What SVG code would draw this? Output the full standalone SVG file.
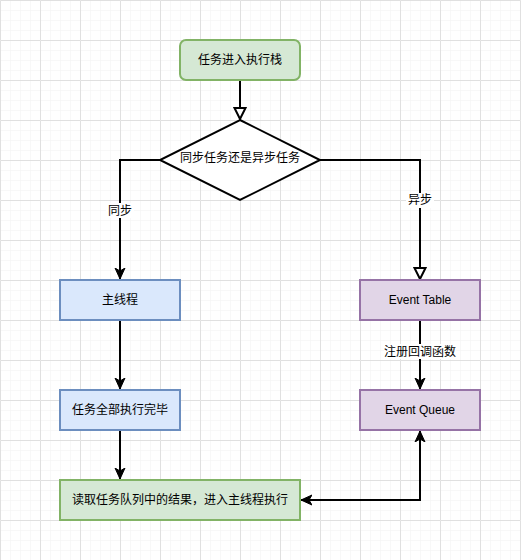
<svg xmlns="http://www.w3.org/2000/svg" width="521" height="560" viewBox="0 0 521 560">
<style>
text{font-family:"Liberation Sans","Noto Sans CJK SC",sans-serif;font-size:12px;fill:#000;text-anchor:middle;dominant-baseline:central}
.edge{fill:none;stroke:#000;stroke-width:2}
.green{fill:#d5e8d4;stroke:#82b366;stroke-width:2}
.blue{fill:#dae8fc;stroke:#6c8ebf;stroke-width:2}
.purple{fill:#e1d5e7;stroke:#9673a6;stroke-width:2}
.lbl{fill:#fff}
</style>
<defs>
<pattern id="minor" width="10" height="10" patternUnits="userSpaceOnUse">
<path d="M10 0H0V10" fill="none" stroke="#f2f2f2" stroke-width="1"/>
</pattern>
<pattern id="major" width="40" height="40" patternUnits="userSpaceOnUse">
<rect width="40" height="40" fill="url(#minor)"/>
<path d="M40 0.5H0.5V40" fill="none" stroke="#e0e0e0" stroke-width="1"/>
</pattern>
<marker id="classic" viewBox="0 0 12 12" refX="11" refY="6" markerWidth="12" markerHeight="12" markerUnits="userSpaceOnUse" orient="auto-start-reverse">
<path d="M0 1L11 6L0 11L3 6Z" fill="#000" stroke="#000" stroke-width="1"/>
</marker>
<marker id="open" viewBox="0 0 14 14" refX="12" refY="7" markerWidth="14" markerHeight="14" markerUnits="userSpaceOnUse" orient="auto">
<path d="M1 1.5L12 7L1 12.5Z" fill="#fff" stroke="#000" stroke-width="2"/>
</marker>
</defs>
<rect width="521" height="560" fill="#fff"/>
<rect width="521" height="560" fill="url(#major)"/>

<g id="connectors">
<path class="edge" d="M240 80V119" marker-end="url(#open)"/>
<path class="edge" d="M160 160H120V279" marker-end="url(#classic)"/>
<path class="edge" d="M320 160H420V279" marker-end="url(#open)"/>
<path class="edge" d="M120 320V389" marker-end="url(#classic)"/>
<path class="edge" d="M120 430V479" marker-end="url(#classic)"/>
<path class="edge" d="M420 320V389" marker-end="url(#classic)"/>
<path class="edge" d="M420 431V500H301" marker-start="url(#classic)" marker-end="url(#classic)"/>
<rect class="lbl" x="106" y="203" width="28" height="15"/>
<text x="120" y="211">同步</text>
<rect class="lbl" x="406" y="193" width="28" height="15"/>
<text x="420" y="200">异步</text>
<rect class="lbl" x="384" y="344" width="72" height="15"/>
<text x="420" y="352">注册回调函数</text>
</g>

<g id="start">
<rect class="green" x="180" y="40" width="120" height="40" rx="6"/>
<text x="240" y="60">任务进入执行栈</text>
</g>
<g id="decision">
<path d="M240 120L320 160L240 200L160 160Z" fill="#fff" stroke="#000" stroke-width="2"/>
<text x="240" y="158">同步任务还是异步任务</text>
</g>
<g id="main-thread">
<rect class="blue" x="60" y="280" width="120" height="40"/>
<text x="120" y="300">主线程</text>
</g>
<g id="all-done">
<rect class="blue" x="60" y="390" width="120" height="40"/>
<text x="120" y="410">任务全部执行完毕</text>
</g>
<g id="event-table">
<rect class="purple" x="360" y="280" width="120" height="40"/>
<text x="420" y="300">Event Table</text>
</g>
<g id="event-queue">
<rect class="purple" x="360" y="390" width="120" height="40"/>
<text x="420" y="410">Event Queue</text>
</g>
<g id="read-result">
<rect class="green" x="60" y="480" width="240" height="40"/>
<text x="180" y="500">读取任务队列中的结果，进入主线程执行</text>
</g>
</svg>
